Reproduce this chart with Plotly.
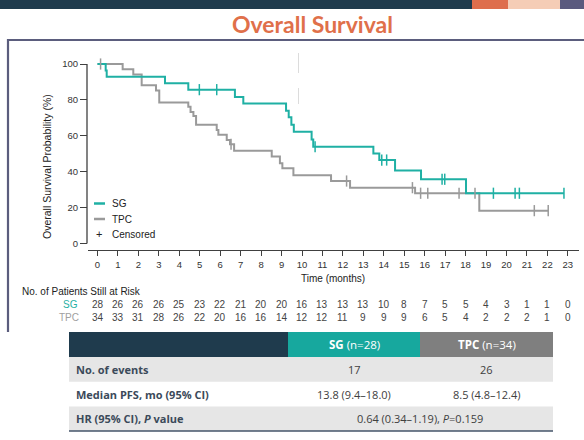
import plotly.graph_objects as go

W, H = 584, 440

# ---------------- data ----------------
months = list(range(0, 24))

sg_time = [0, 0.40, 0.45, 3.30, 4.44, 6.72, 7.13, 9.22, 9.35, 9.48, 9.60, 10.47, 10.55,
           13.49, 13.78, 14.55, 15.82, 18.02, 22.81]
sg_surv = [100, 96.4, 92.9, 89.3, 85.7, 81.6, 78.0, 74.0, 70.3, 66.2, 62.3, 58.0, 53.9,
           50.2, 46.5, 40.6, 35.8, 28.0, 28.0]
sg_cens = [4.98, 5.83, 10.64, 13.90, 14.14, 16.85, 16.98, 19.36, 20.42, 20.63, 22.81]

tpc_time = [0, 1.23, 1.75, 2.16, 2.86, 3.02, 4.44, 4.55, 4.69, 4.82, 5.83, 5.91, 6.32, 6.48,
            6.68, 8.52, 8.92, 9.04, 9.58, 11.42, 12.35, 15.53, 18.67, 22.04]
tpc_surv = [100, 97.1, 94.1, 88.2, 85.3, 78.5, 76.2, 73.3, 71.0, 66.2, 63.2, 60.6, 57.7, 55.3,
            51.7, 48.4, 44.7, 41.9, 38.0, 34.8, 31.1, 28.0, 18.3, 18.3]
tpc_cens = [0.15, 6.53, 12.18, 15.40, 15.80, 16.15, 17.68, 18.46, 21.36, 22.04]

sg_risk = [28, 26, 26, 26, 25, 23, 22, 21, 20, 20, 16, 13, 13, 13, 10, 8, 7, 5, 5, 4, 3, 1, 1, 0]
tpc_risk = [34, 33, 31, 28, 26, 22, 20, 16, 16, 14, 12, 12, 11, 9, 9, 9, 6, 5, 4, 2, 2, 2, 1, 0]

y_ticks = [0, 20, 40, 60, 80, 100]

table_rows = ["No. of events", "Median PFS, mo (95% CI)", "HR (95% CI), <i>P</i> value"]
table_sg = ["17", "13.8 (9.4–18.0)", None]
table_tpc = ["26", "8.5 (4.8–12.4)", None]
table_merged = "0.64 (0.34–1.19), <i>P</i>=0.159"

# ---------------- styling ----------------
TEAL = "#1fb0a4"
GRAY = "#9a9a9a"
NAVY = "#1f3b4d"
ORANGE = "#e0704a"
NARROW = "Liberation Sans Narrow, Arial Narrow, Liberation Sans, Arial"
SLIDE = "Open Sans, Lato, sans-serif"


def px(x):
    return x / W


def py(y):
    return 1 - y / H


def surv_at(times, survs, t):
    v = survs[0]
    for ti, si in zip(times, survs):
        if ti <= t + 1e-9:
            v = si
    return v


def text(t, x, y, size, color, family, xa="center", ya="middle", xref="paper", **kw):
    d = dict(text=t, xref=xref, yref="paper", x=x, y=y, showarrow=False, xanchor=xa, yanchor=ya,
             font=dict(family=family, size=size, color=color))
    d.update(kw)
    return d


fig = go.Figure()

fig.add_trace(go.Scatter(x=tpc_time, y=tpc_surv, mode="lines", line=dict(color=GRAY, width=2, shape="hv"),
                         showlegend=False, hoverinfo="skip"))
fig.add_trace(go.Scatter(x=sg_time, y=sg_surv, mode="lines", line=dict(color=TEAL, width=2, shape="hv"),
                         showlegend=False, hoverinfo="skip"))
fig.add_trace(go.Scatter(x=tpc_cens, y=[surv_at(tpc_time, tpc_surv, t) for t in tpc_cens], mode="markers",
                         marker=dict(symbol="line-ns-open", size=8, color=GRAY, line=dict(color=GRAY, width=1.5)),
                         showlegend=False, hoverinfo="skip"))
fig.add_trace(go.Scatter(x=sg_cens, y=[surv_at(sg_time, sg_surv, t) for t in sg_cens], mode="markers",
                         marker=dict(symbol="line-ns-open", size=8, color=TEAL, line=dict(color=TEAL, width=1.5)),
                         showlegend=False, hoverinfo="skip"))

# axes geometry (pixels)
x_left, x_right = 88, 579
x0px, ppm = 97.5, 20.45
y0px, y100px = 243.5, 64.0
ppp = (y0px - y100px) / 100.0
dom_top, dom_bot = 56, 252

fig.update_layout(
    width=W, height=H, margin=dict(l=0, r=0, t=0, b=0),
    paper_bgcolor="white", plot_bgcolor="rgba(0,0,0,0)",
    showlegend=False,
    xaxis=dict(domain=[px(x_left), px(x_right)],
               range=[(x_left - x0px) / ppm, (x_right - x0px) / ppm],
               anchor="free", position=py(250), showline=True, linecolor="#404040", linewidth=1.3,
               ticks="outside", ticklen=5, tickwidth=1, tickcolor="#404040",
               tickvals=months, ticktext=[str(m) for m in months],
               tickfont=dict(family=NARROW, size=9.5, color="#333"),
               showgrid=False, zeroline=False),
    yaxis=dict(domain=[py(dom_bot), py(dom_top)],
               range=[(y0px - dom_bot) / ppp, (y0px - dom_top) / ppp],
               anchor="free", position=px(87), showline=False,
               ticks="outside", ticklen=7, tickwidth=1, tickcolor="#404040",
               tickvals=y_ticks, ticktext=[str(v) for v in y_ticks],
               tickfont=dict(family=NARROW, size=9.5, color="#333"),
               showgrid=False, zeroline=False),
)

shapes = []
ann = []

# y axis line
shapes.append(dict(type="line", xref="paper", yref="y", x0=px(87), x1=px(87), y0=0, y1=100,
                   line=dict(color="#404040", width=1.3)))
# faint vertical artifact
shapes.append(dict(type="line", xref="paper", yref="paper", x0=px(298.5), x1=px(298.5), y0=py(53), y1=py(73),
                   line=dict(color="#dcdcdc", width=1)))
shapes.append(dict(type="line", xref="paper", yref="paper", x0=px(298.5), x1=px(298.5), y0=py(88), y1=py(104),
                   line=dict(color="#dcdcdc", width=1)))

# top banner
shapes.append(dict(type="rect", xref="paper", yref="paper", x0=0, x1=px(472), y0=py(9), y1=1,
                   fillcolor=NAVY, line=dict(width=0), layer="below"))
shapes.append(dict(type="rect", xref="paper", yref="paper", x0=px(472), x1=px(508), y0=py(9), y1=1,
                   fillcolor="#de6e4d", line=dict(width=0), layer="below"))
shapes.append(dict(type="rect", xref="paper", yref="paper", x0=px(508), x1=px(560), y0=py(9), y1=1,
                   fillcolor="#f5cdb6", line=dict(width=0), layer="below"))
shapes.append(dict(type="rect", xref="paper", yref="paper", x0=px(560), x1=1, y0=py(9), y1=1,
                   fillcolor="#5a5a7e", line=dict(width=0), layer="below"))

# frame
shapes.append(dict(type="path", xref="paper", yref="paper",
                   path=f"M {px(8)} {py(332)} L {px(8)} {py(40)} L 1 {py(40)}",
                   line=dict(color="#5b5d7d", width=2.2)))

# title
ann.append(text("<b>Overall Survival</b>", px(312), py(24), 23, ORANGE, "Lato, Open Sans"))

# axis titles
ann.append(text("Overall Survival Probability (%)", px(47), py(167), 10.5, "#222", NARROW, textangle=-90))
ann.append(text("Time (months)", px(333), py(278), 10, "#222", NARROW))

# legend
for yy, col, lab in [(203.5, TEAL, "SG"), (219, GRAY, "TPC")]:
    shapes.append(dict(type="line", xref="paper", yref="paper", x0=px(94), x1=px(105), y0=py(yy), y1=py(yy),
                       line=dict(color=col, width=2.5)))
    ann.append(text(lab, px(110), py(yy), 10, "#222", NARROW, xa="left"))
ann.append(text("+", px(99.5), py(234), 11, "#222", NARROW))
ann.append(text("Censored", px(110), py(234), 10, "#222", NARROW, xa="left"))

# risk table
ann.append(text("No. of Patients Still at Risk", px(20), py(291), 10, "#222", NARROW, xa="left"))
ann.append(text("SG", px(80), py(304), 10, TEAL, NARROW, xa="right"))
ann.append(text("TPC", px(81), py(317), 10, "#a0a0a0", NARROW, xa="right"))
for m, v in zip(months, sg_risk):
    ann.append(text(str(v), m, py(304), 10, "#444", NARROW, xref="x"))
for m, v in zip(months, tpc_risk):
    ann.append(text(str(v), m, py(317), 10, "#444", NARROW, xref="x"))

# summary table
tx0, tc1, tc2, tx1 = 69, 288, 420, 553
hy0, hy1 = 332, 357
row_h = 24.7
shapes.append(dict(type="rect", xref="paper", yref="paper", x0=px(tx0), x1=px(tc1), y0=py(hy1), y1=py(hy0),
                   fillcolor=NAVY, line=dict(width=0)))
shapes.append(dict(type="rect", xref="paper", yref="paper", x0=px(tc1), x1=px(tc2), y0=py(hy1), y1=py(hy0),
                   fillcolor="#17a89e", line=dict(width=0)))
shapes.append(dict(type="rect", xref="paper", yref="paper", x0=px(tc2), x1=px(tx1), y0=py(hy1), y1=py(hy0),
                   fillcolor="#7f7f7f", line=dict(width=0)))
ann.append(text("<b>SG</b> (n=28)", px((tc1 + tc2) / 2), py((hy0 + hy1) / 2), 11.5, "white", SLIDE))
ann.append(text("<b>TPC</b> (n=34)", px((tc2 + tx1) / 2), py((hy0 + hy1) / 2), 11.5, "white", SLIDE))

for i, lab in enumerate(table_rows):
    r0 = hy1 + i * row_h
    r1 = r0 + row_h
    if i % 2 == 0:
        shapes.append(dict(type="rect", xref="paper", yref="paper", x0=px(tx0), x1=px(tx1), y0=py(r1), y1=py(r0),
                           fillcolor="#e6e6e6", line=dict(width=0), layer="below"))
    yc = py((r0 + r1) / 2)
    ann.append(text(f"<b>{lab}</b>", px(74), yc, 11, "#3b4a5a", SLIDE, xa="left"))
    if table_sg[i] is not None:
        ann.append(text(table_sg[i], px((tc1 + tc2) / 2), yc, 11, "#404040", SLIDE))
        ann.append(text(table_tpc[i], px((tc2 + tx1) / 2), yc, 11, "#404040", SLIDE))
    else:
        ann.append(text(table_merged, px(tc2), yc, 11, "#404040", SLIDE))
bottom = hy1 + 3 * row_h
shapes.append(dict(type="line", xref="paper", yref="paper", x0=px(tx0), x1=px(tx1), y0=py(bottom), y1=py(bottom),
                   line=dict(color="#44546a", width=1.5)))

fig.update_layout(shapes=shapes, annotations=ann)
fig.write_html("out.html", config={"displayModeBar": False},
               post_script="document.body.style.margin='0';document.body.style.overflow='hidden';")
